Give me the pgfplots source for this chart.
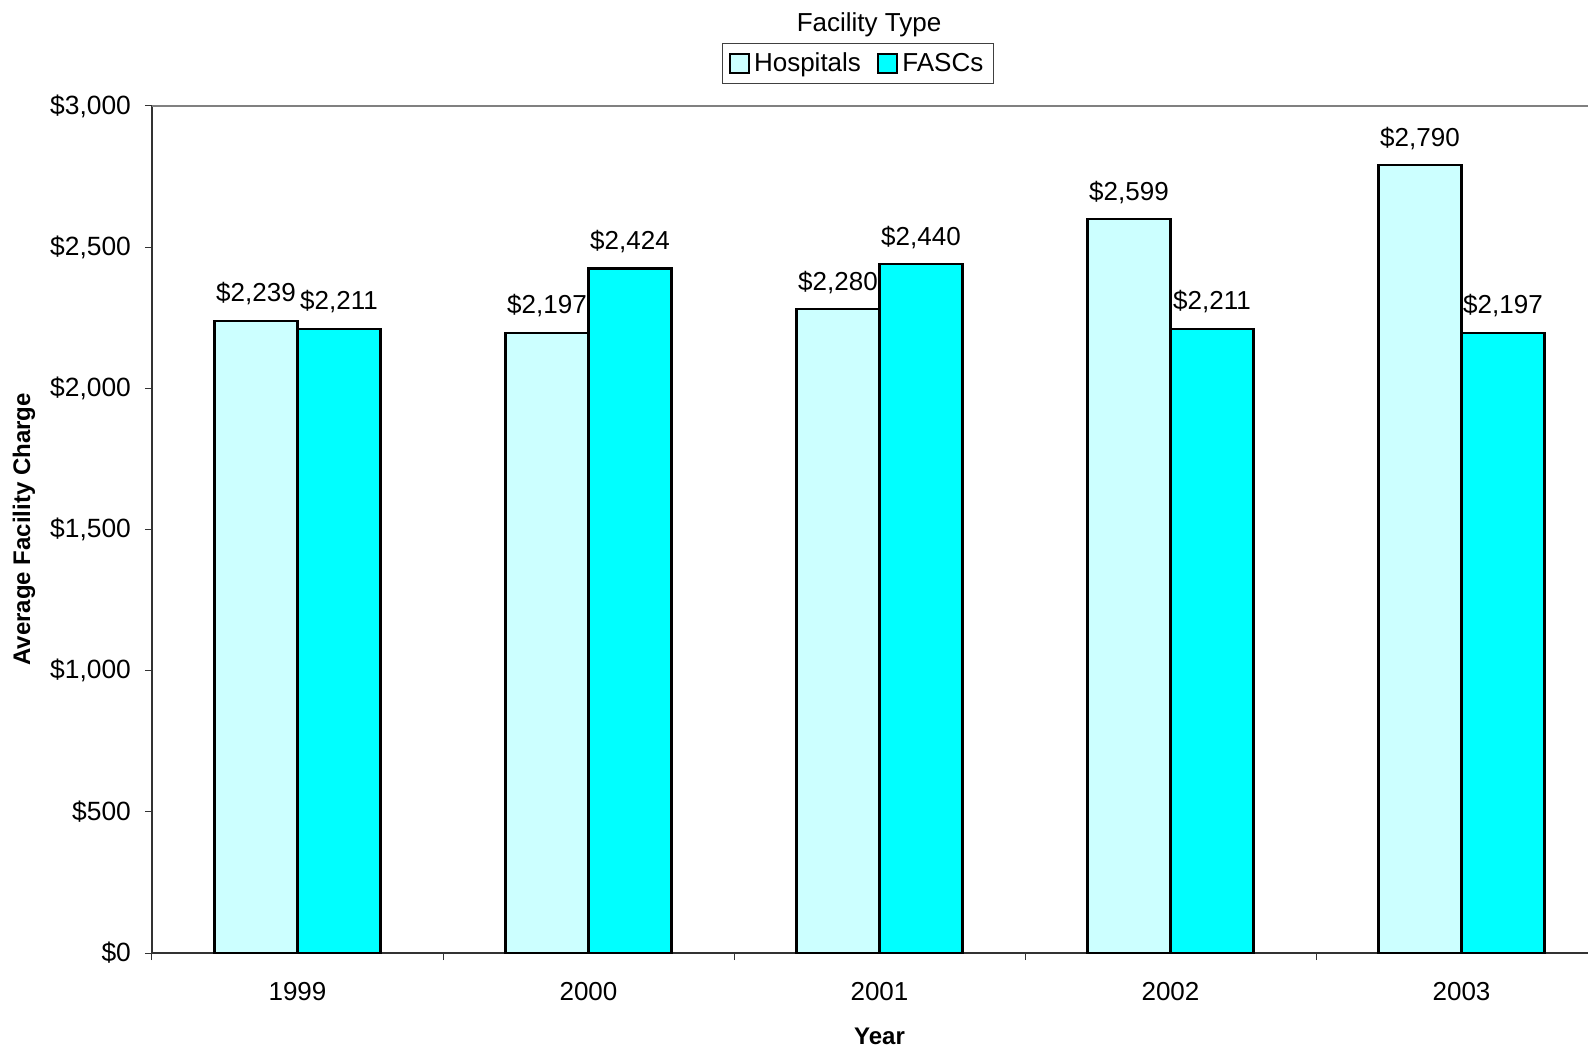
\documentclass[border=0pt]{standalone}
\usepackage{pgfplots}
\pgfplotsset{compat=1.18}
\usepackage{fontspec}
\setmainfont{Liberation Sans}
\definecolor{hosp}{HTML}{CCFFFF}
\definecolor{fasc}{HTML}{00FFFF}
\begin{document}
\begin{tikzpicture}
\useasboundingbox (-76pt,-48.5pt) rectangle (718pt,476.5pt);
\begin{axis}[
  at={(0,0)}, anchor=south west,
  scale only axis,
  width=727.5pt, height=423.5pt,
  xmin=-0.5, xmax=4.5,
  ymin=0, ymax=3000,
  ybar=0pt, bar width=41.5pt,
  axis x line*=bottom, axis y line*=left,
  axis line style={black!80, line width=0.6pt, -},
  tick align=outside,
  major tick length=3.5pt,
  tick style={black!80, line width=0.5pt},
  xtick={-0.5,0.5,1.5,2.5,3.5,4.5},
  xticklabels={1999,2000,2001,2002,2003},
  x tick label as interval,
  ytick={0,500,1000,1500,2000,2500,3000},
  font=\fontsize{13}{15}\selectfont,
  /pgf/number format/assume math mode=true,
  /pgf/number format/.cd, 1000 sep={,}, fixed, /pgfplots/.cd,
  yticklabel={\$\pgfmathprintnumber{\tick}},
  yticklabel style={font=\fontsize{13.2}{15}\selectfont, xshift=-3.5pt},
  xticklabel style={font=\fontsize{13}{15}\selectfont, anchor=north, inner sep=0pt, yshift=-11pt},
  xlabel={\bfseries Year},
  ylabel={\bfseries Average Facility Charge},
  xlabel style={at={(axis description cs:0.5,-0.1085)}, anchor=base, font=\fontsize{12}{14}\selectfont},
  ylabel style={at={(axis description cs:-0.0880,0.5)}, anchor=center, font=\fontsize{12}{14}\selectfont},
  nodes near coords={\$\pgfmathprintnumber{\pgfplotspointmeta}},
  every node near coord/.append style={anchor=base, yshift=9.5pt, font=\fontsize{13}{15}\selectfont, black},
  legend columns=2,
  legend style={at={(axis description cs:0.4852,1.050)}, anchor=center,
    draw=black!75, line width=0.5pt, font=\fontsize{13}{15}\selectfont,
    inner xsep=3pt, inner ysep=2.5pt,
    /tikz/every even column/.append style={column sep=6pt}},
  legend image code/.code={\draw[#1,/tikz/.cd,line width=1.1pt] (0pt,-4.8pt) rectangle (9.6pt,4.8pt);},
  clip=false,
]
\addplot[draw=black, line width=1.2pt, fill=hosp] coordinates {(0,2239) (1,2197) (2,2280) (3,2599) (4,2790)};
\addplot[draw=black, line width=1.2pt, fill=fasc] coordinates {(0,2211) (1,2424) (2,2440) (3,2211) (4,2197)};
\legend{Hospitals, FASCs}
\draw[black!50, line width=0.6pt] (rel axis cs:0,1) -- (rel axis cs:1,1);
\end{axis}
\node[anchor=base, font=\fontsize{13}{15}\selectfont] at (358.5pt,460.5pt) {Facility Type};
\end{tikzpicture}
\end{document}
